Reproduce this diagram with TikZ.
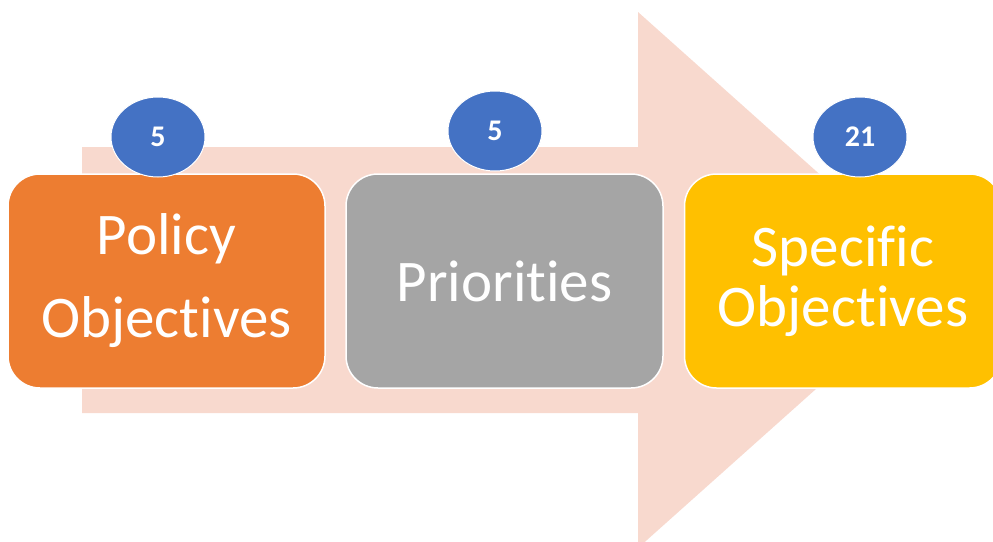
\documentclass[tikz,border=0pt]{standalone}
\usepackage{fontspec}
\setmainfont[Ligatures={NoCommon,NoContextual,NoRare}]{Carlito}
\usetikzlibrary{shapes.geometric}
\definecolor{arrowc}{HTML}{F8D9CE}
\definecolor{orangec}{HTML}{ED7D31}
\definecolor{grayc}{HTML}{A5A5A5}
\definecolor{yellowc}{HTML}{FFC000}
\definecolor{bluec}{HTML}{4472C4}
\tikzset{
  stagebox/.style={draw=white, line width=1.5pt, rounded corners=32pt, minimum width=317pt, minimum height=214pt, inner sep=0pt, align=center, text=white},
  countbubble/.style={ellipse, draw=white, line width=1pt, fill=bluec, minimum width=94pt, minimum height=80pt, inner sep=0pt, text=white, font=\fontsize{30}{33}\selectfont\bfseries}
}
\begin{document}
\begin{tikzpicture}[x=1pt,y=-1pt]
\useasboundingbox (0,0) rectangle (993,541);
\fill[arrowc] (82,147) -- (638,147) -- (638,12) -- (938,280) -- (638,548) -- (638,413) -- (82,413) -- cycle;
\node[stagebox, fill=orangec, font=\fontsize{59}{83}\selectfont] (policy) at (166.5,281) {Policy\\Objectives};
\node[stagebox, fill=grayc, font=\fontsize{59}{70}\selectfont] (prio) at (504.5,281) {Priorities};
\node[stagebox, fill=yellowc, font=\fontsize{59}{60}\selectfont] (spec) at (843,281) {Specific\\Objectives};
\node[countbubble] (n1) at (158,137) {5};
\node[countbubble] (n2) at (495,131) {5};
\node[countbubble] (n3) at (860,137) {21};
\end{tikzpicture}
\end{document}
